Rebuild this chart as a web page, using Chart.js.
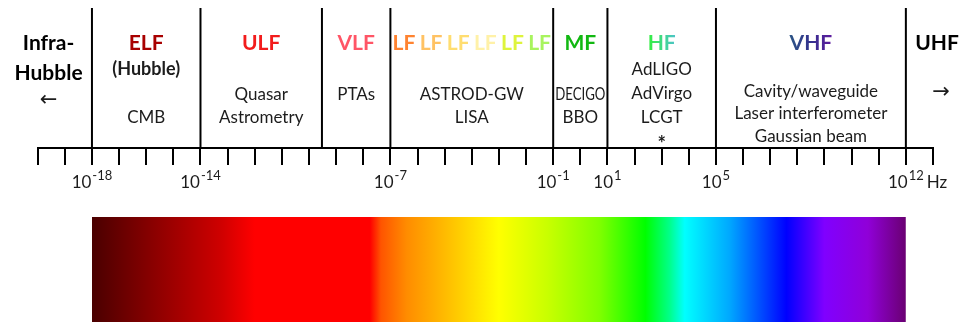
<!DOCTYPE html>
<html>
<head>
<meta charset="utf-8">
<title>Gravitational-wave frequency bands</title>
<script src="https://cdn.jsdelivr.net/npm/chart.js@4/dist/chart.umd.min.js"></script>
<style>
  html, body { margin: 0; padding: 0; background: #ffffff; }
  canvas { display: block; }
</style>
</head>
<body>
<canvas id="bands" width="966" height="322"></canvas>
<script>
// ---- data -------------------------------------------------------------
// One tick per decade along the frequency axis (exponent of 10, in Hz)
const decadeExponents = [-20, -19, -18, -17, -16, -15, -14, -13, -12, -11, -10, -9, -8, -7,
  -6, -5, -4, -3, -2, -1, 0, 1, 2, 3, 4, 5, 6, 7, 8, 9, 10, 11, 12, 13];
// Decades that carry a printed label
const labelledExponents = [-18, -14, -7, -1, 1, 5, 12];
// Band boundaries, Hz
const bandEdgesHz = [1e-18, 1e-14, 3e-10, 1e-7, 1e-1, 1e1, 1e5, 1e12];
// Band names, one per interval between edges
const bandNames = ['ELF', 'ULF', 'VLF', 'LF', 'MF', 'HF', 'VHF'];
// Sources / detectors listed under each band
const bandNotes = [
  ['(Hubble)', 'CMB'],
  ['Quasar', 'Astrometry'],
  ['PTAs'],
  ['ASTROD-GW', 'LISA'],
  ['DECIGO', 'BBO'],
  ['AdLIGO', 'AdVirgo', 'LCGT', '*'],
  ['Cavity/waveguide', 'Laser interferometer', 'Gaussian beam']
];
// Open-ended bands beyond the outer edges
const lowerBandLines = ['Infra-', 'Hubble'];
const upperBandName = 'UHF';
const axisUnit = 'Hz';

// ---- styles & layout --------------------------------------------------
const FONT = 'Lato, "Open Sans", sans-serif';
const CAP = 0.7165;              // cap height / em for Lato
const INK = '#1c1c1c';
const TITLE_SIZE = 21, NOTE_SIZE = 17, SUB_TITLE_SIZE = 18;
// vertical layout, in y-scale units (1 unit = 1 px, 0 = frequency axis)
const Y_MIN = -174, Y_MAX = 140;
const DIVIDER_TOP = 140;
const BAR_TOP = -69;
// cap-centre rows of text, px from the top of the canvas
const TITLE_ROW = 42;
const noteRows = [[69, 117], [94, 117], [94], [94, 117], [94, 117], [69, 93, 117, 144], [91, 113, 135.5]];
const noteBold = [[true, false], [], [], [], [], [false, false, false, true], []];
const titleColors = ['#a80000', '#f21c1c', '#ff5566', null, '#12b812', ['#33f03c', '#4cc3cc'], ['#2b5585', '#34318e', '#5f1a9f']];
// the LF band repeats its name once per decade, fading from orange to green
const lfColors = ['#ff8330', '#ffc263', '#ffdd70', '#fff1a8', '#def43c', '#a8f45e'];
// colour stops of the spectrum strip: [frequency exponent, colour]
const spectrumStops = [
  [-18, '#4a0000'], [-15.6, '#8e0000'], [-13.2, '#d00000'], [-12.0, '#ff0000'],
  [-7.75, '#ff0000'], [-7.35, '#ff5400'], [-6.4, '#ff8c00'], [-5.2, '#ffb400'],
  [-3.0, '#ffff00'], [-1.2, '#c8ff00'], [0.7, '#80ff00'], [2.4, '#00ff00'],
  [3.3, '#00ff8c'], [3.85, '#00ffff'], [5.5, '#00a8ff'], [6.6, '#0050ff'],
  [7.6, '#0000ff'], [9.0, '#8000ff'], [10.6, '#9000d8'], [12, '#6a0072']
];

// ---- datasets ---------------------------------------------------------
const dividerSets = bandEdgesHz.map(hz => ({
  type: 'line',
  data: [{ x: hz, y: 0 }, { x: hz, y: DIVIDER_TOP }],
  borderColor: '#000000',
  borderWidth: 2,
  pointRadius: 0,
  fill: false
}));

const spectrumSet = {
  type: 'line',
  data: [{ x: bandEdgesHz[0], y: BAR_TOP }, { x: bandEdgesHz[bandEdgesHz.length - 1], y: BAR_TOP }],
  borderColor: 'rgba(0,0,0,0)',
  borderWidth: 0,
  pointRadius: 0,
  fill: { value: Y_MIN },
  backgroundColor(context) {
    const chart = context.chart;
    if (!chart.chartArea) return '#ff0000';
    const xs = chart.scales.x;
    const x0 = xs.getPixelForValue(bandEdgesHz[0]);
    const x1 = xs.getPixelForValue(bandEdgesHz[bandEdgesHz.length - 1]);
    const g = chart.ctx.createLinearGradient(x0, 0, x1, 0);
    spectrumStops.forEach(([e, c]) => {
      const t = (xs.getPixelForValue(Math.pow(10, e)) - x0) / (x1 - x0);
      g.addColorStop(Math.min(1, Math.max(0, t)), c);
    });
    return g;
  }
};

// ---- text drawn on top of the axes ------------------------------------
function textAt(ctx, text, x, capMid, size, weight, fill, maxWidth, family) {
  ctx.font = `${weight} ${size}px ${family || FONT}`;
  ctx.fillStyle = fill;
  const base = capMid + size * CAP / 2;
  if (maxWidth) ctx.fillText(text, x, base, maxWidth);
  else ctx.fillText(text, x, base);
}

function gradientText(ctx, text, x, capMid, size, colors) {
  ctx.font = `bold ${size}px ${FONT}`;
  const w = ctx.measureText(text).width;
  const g = ctx.createLinearGradient(x - w / 2, 0, x + w / 2, 0);
  colors.forEach((c, i) => g.addColorStop(i / (colors.length - 1), c));
  textAt(ctx, text, x, capMid, size, 'bold', g);
}

const bandText = {
  id: 'bandText',
  afterDraw(chart) {
    const { ctx } = chart;
    const xs = chart.scales.x;
    const px = hz => xs.getPixelForValue(hz);
    const mid = (a, b) => px(Math.sqrt(a * b));
    ctx.save();
    ctx.textAlign = 'center';
    ctx.textBaseline = 'alphabetic';

    // band names and notes
    bandNames.forEach((name, i) => {
      const lo = bandEdgesHz[i], hi = bandEdgesHz[i + 1];
      const cx = mid(lo, hi);
      const col = titleColors[i];
      if (name === 'LF') {
        const a = Math.log10(lo), b = Math.log10(hi);
        for (let d = 0; d < b - a; d++) {
          textAt(ctx, name, px(Math.pow(10, a + d + 0.5)), TITLE_ROW, TITLE_SIZE, 'bold', lfColors[d]);
        }
      } else if (Array.isArray(col)) {
        gradientText(ctx, name, cx, TITLE_ROW, TITLE_SIZE, col);
      } else {
        textAt(ctx, name, cx, TITLE_ROW, TITLE_SIZE, 'bold', col);
      }
      bandNotes[i].forEach((line, j) => {
        const bold = noteBold[i][j];
        const squeeze = name === 'MF' ? (px(hi) - px(lo)) - 4 : undefined;
        const size = line === '*' ? 20 : (bold ? SUB_TITLE_SIZE : NOTE_SIZE);
        textAt(ctx, line, cx, noteRows[i][j], size, bold ? 'bold' : 'normal', INK, squeeze);
      });
    });

    // open-ended bands at both ends
    const lowX = px(Math.pow(10, -19.6));
    textAt(ctx, lowerBandLines[0], lowX, TITLE_ROW, TITLE_SIZE, 'bold', '#000000');
    textAt(ctx, lowerBandLines[1], lowX, 72, TITLE_SIZE, 'bold', '#000000');
    textAt(ctx, '\u2190', lowX, 98, 21, 'normal', INK, undefined, '"DejaVu Sans", sans-serif');
    const highX = px(Math.pow(10, 13.15));
    textAt(ctx, upperBandName, highX, TITLE_ROW, TITLE_SIZE, 'bold', '#000000');
    textAt(ctx, '\u2192', px(Math.pow(10, 13.3)), 90, 21, 'normal', INK, undefined, '"DejaVu Sans", sans-serif');

    // decade labels: 10 with a raised exponent
    const baseY = 188, supY = 179.5;
    labelledExponents.forEach(e => {
      ctx.font = `normal 17px ${FONT}`;
      const wBase = ctx.measureText('10').width;
      ctx.font = `normal 13px ${FONT}`;
      const wExp = ctx.measureText(String(e)).width;
      const left = px(Math.pow(10, e)) - (wBase + wExp + 1) / 2;
      ctx.textAlign = 'left';
      ctx.fillStyle = INK;
      ctx.font = `normal 17px ${FONT}`;
      ctx.fillText('10', left, baseY);
      ctx.font = `normal 13px ${FONT}`;
      ctx.fillText(String(e), left + wBase + 1, supY);
      ctx.textAlign = 'center';
    });
    ctx.font = `normal 17px ${FONT}`;
    ctx.fillStyle = INK;
    ctx.fillText(axisUnit, px(Math.pow(10, 13.15)), baseY);
    ctx.restore();
  }
};

new Chart(document.getElementById('bands'), {
  type: 'line',
  data: { datasets: [spectrumSet, ...dividerSets] },
  options: {
    responsive: false,
    animation: false,
    events: [],
    layout: { padding: { left: 37.7, right: 33, top: 8, bottom: 0 } },
    plugins: { legend: { display: false }, tooltip: { enabled: false } },
    scales: {
      x: {
        type: 'logarithmic',
        min: Math.pow(10, decadeExponents[0]),
        max: Math.pow(10, decadeExponents[decadeExponents.length - 1]),
        position: { y: 0 },
        afterBuildTicks(scale) {
          scale.ticks = decadeExponents.map(e => ({ value: Math.pow(10, e) }));
        },
        ticks: { callback: () => '', autoSkip: false, maxRotation: 0 },
        grid: { drawOnChartArea: false, drawTicks: true, tickLength: 16, color: '#000000', lineWidth: 2 },
        border: { display: true, color: '#000000', width: 2 }
      },
      y: { type: 'linear', min: Y_MIN, max: Y_MAX, display: false }
    }
  },
  plugins: [bandText]
});
</script>
</body>
</html>
